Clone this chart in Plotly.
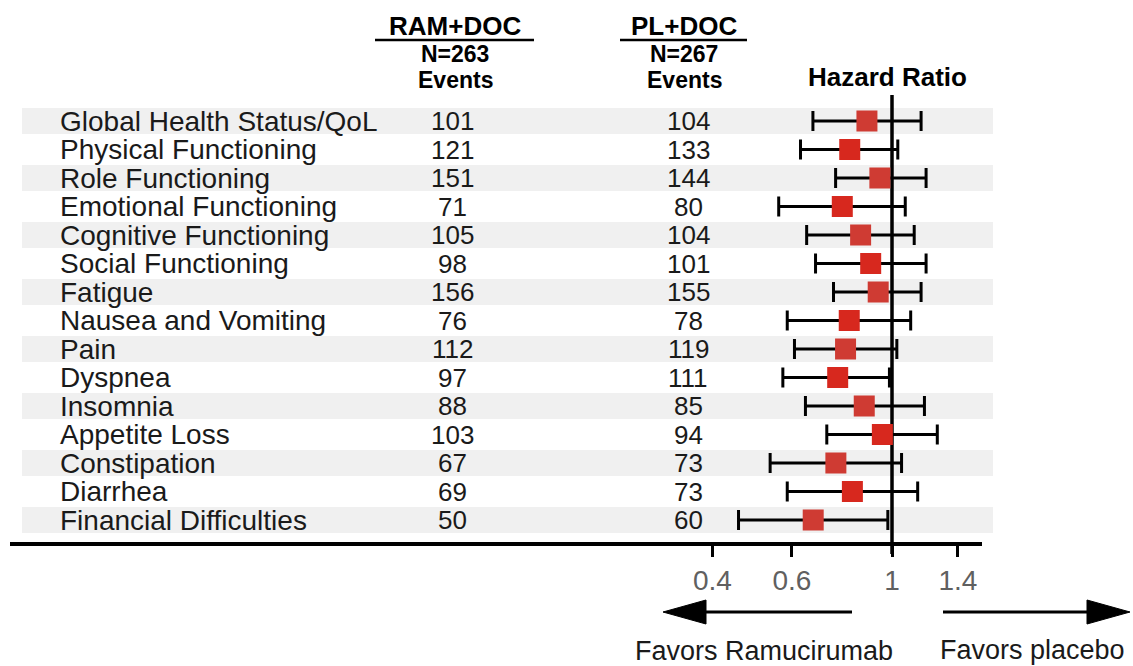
import math
import plotly.graph_objects as go

# ---------------- data ----------------
labels = [
    "Global Health Status/QoL", "Physical Functioning", "Role Functioning",
    "Emotional Functioning", "Cognitive Functioning", "Social Functioning",
    "Fatigue", "Nausea and Vomiting", "Pain", "Dyspnea", "Insomnia",
    "Appetite Loss", "Constipation", "Diarrhea", "Financial Difficulties",
]
ram_events = [101, 121, 151, 71, 105, 98, 156, 76, 112, 97, 88, 103, 67, 69, 50]
pl_events = [104, 133, 144, 80, 104, 101, 155, 78, 119, 111, 85, 94, 73, 73, 60]
hr = [0.880, 0.806, 0.940, 0.776, 0.852, 0.897, 0.932, 0.804, 0.789, 0.758,
      0.868, 0.952, 0.751, 0.817, 0.669]
ci_lo = [0.668, 0.627, 0.750, 0.561, 0.647, 0.677, 0.742, 0.586, 0.608, 0.573,
         0.643, 0.717, 0.537, 0.586, 0.457]
ci_hi = [1.160, 1.030, 1.190, 1.070, 1.120, 1.190, 1.160, 1.100, 1.025, 0.987,
         1.180, 1.260, 1.050, 1.140, 0.979]
ref_hr = 1
tick_vals = [0.4, 0.6, 1, 1.4]
tick_text = ["0.4", "0.6", "1", "1.4"]
ram_header = ["RAM+DOC", "N=263", "Events"]
pl_header = ["PL+DOC", "N=267", "Events"]
hr_header = "Hazard Ratio"
favors_left = "Favors Ramucirumab"
favors_right = "Favors placebo"

# ---------------- layout geometry ----------------
W, H = 1133, 666
FONT = "Liberation Sans, Arial, sans-serif"
ROW0_PX, ROW_STEP = 121.0, 28.5
PX_PER_LN, ONE_PX = 196.0, 892.0
AX_L, AX_R, AX_Y = 10, 982, 544


def px(xp):
    return xp / W


def py(yp):
    return 1 - yp / H


def x_log10_at(xp):
    return ((xp - ONE_PX) / PX_PER_LN) / math.log(10)


def row_at(yp):
    return (yp - ROW0_PX) / ROW_STEP


n = len(labels)
rows = list(range(n))

fig = go.Figure()

# reference line at HR = 1
fig.add_trace(go.Scatter(
    x=[ref_hr, ref_hr], y=[row_at(95), row_at(554)], mode="lines",
    line=dict(color="black", width=3.5), showlegend=False, hoverinfo="skip",
))

box_colors = ["#cf3b33" if i % 2 == 0 else "#d7281e" for i in rows]
fig.add_trace(go.Scatter(
    x=hr, y=rows, mode="markers",
    marker=dict(symbol="square", size=21, color=box_colors, line=dict(width=0)),
    error_x=dict(type="data", symmetric=False,
                 array=[h - x for h, x in zip(ci_hi, hr)],
                 arrayminus=[x - l for x, l in zip(hr, ci_lo)],
                 color="black", thickness=3, width=10),
    showlegend=False, hoverinfo="skip",
))

shapes = []
# alternating gray bands
for i in rows:
    if i % 2 == 0:
        shapes.append(dict(type="rect", xref="paper", yref="y",
                           x0=px(22), x1=px(993), y0=i - 0.46, y1=i + 0.46,
                           fillcolor="#f0f0f0", line=dict(width=0), layer="below"))
# header underlines
shapes.append(dict(type="line", xref="paper", yref="paper", x0=px(375), x1=px(534),
                   y0=py(40), y1=py(40), line=dict(color="black", width=2.5)))
shapes.append(dict(type="line", xref="paper", yref="paper", x0=px(620), x1=px(747),
                   y0=py(40), y1=py(40), line=dict(color="black", width=2.5)))
# arrows
AR_Y = 612
shapes.append(dict(type="line", xref="paper", yref="paper", x0=px(700), x1=px(852),
                   y0=py(AR_Y), y1=py(AR_Y), line=dict(color="black", width=3)))
shapes.append(dict(type="path", xref="paper", yref="paper",
                   path=f"M {px(663)},{py(AR_Y)} L {px(706)},{py(AR_Y-12)} L {px(706)},{py(AR_Y+12)} Z",
                   fillcolor="black", line=dict(color="black", width=1)))
shapes.append(dict(type="line", xref="paper", yref="paper", x0=px(943), x1=px(1092),
                   y0=py(AR_Y), y1=py(AR_Y), line=dict(color="black", width=3)))
shapes.append(dict(type="path", xref="paper", yref="paper",
                   path=f"M {px(1130)},{py(AR_Y)} L {px(1087)},{py(AR_Y-12)} L {px(1087)},{py(AR_Y+12)} Z",
                   fillcolor="black", line=dict(color="black", width=1)))

ann = []
for i, (lab, r, p) in enumerate(zip(labels, ram_events, pl_events)):
    ann.append(dict(xref="paper", yref="y", x=px(58), y=i, text=lab, xanchor="left",
                    yanchor="middle", showarrow=False, font=dict(size=28, color="#1a1a1a")))
    ann.append(dict(xref="paper", yref="y", x=px(452), y=i, text=str(r), xanchor="center",
                    yanchor="middle", showarrow=False, font=dict(size=26, color="#1a1a1a")))
    ann.append(dict(xref="paper", yref="y", x=px(688), y=i, text=str(p), xanchor="center",
                    yanchor="middle", showarrow=False, font=dict(size=26, color="#1a1a1a")))

header_rows = [(26, 26), (54, 23), (80, 23)]  # (y px, font size)
for header, cx in [(ram_header, 455), (pl_header, 684)]:
    for txt, (ypx, fs) in zip(header, header_rows):
        ann.append(dict(xref="paper", yref="paper", x=px(cx), y=py(ypx), text=f"<b>{txt}</b>",
                        xanchor="center", yanchor="middle", showarrow=False,
                        font=dict(size=fs, color="black")))
ann.append(dict(xref="paper", yref="paper", x=px(887), y=py(77), text=f"<b>{hr_header}</b>",
                xanchor="center", yanchor="middle", showarrow=False,
                font=dict(size=26, color="black")))
ann.append(dict(xref="paper", yref="paper", x=px(764), y=py(651), text=favors_left,
                xanchor="center", yanchor="middle", showarrow=False,
                font=dict(size=27, color="#1a1a1a")))
ann.append(dict(xref="paper", yref="paper", x=px(1032), y=py(650), text=favors_right,
                xanchor="center", yanchor="middle", showarrow=False,
                font=dict(size=27, color="#1a1a1a")))

fig.update_layout(
    width=W, height=H, margin=dict(l=0, r=0, t=0, b=0),
    paper_bgcolor="white", plot_bgcolor="white",
    font=dict(family=FONT),
    shapes=shapes, annotations=ann,
    xaxis=dict(type="log", domain=[px(AX_L), px(AX_R)],
               range=[x_log10_at(AX_L), x_log10_at(AX_R)], autorange=False,
               anchor="free", position=py(AX_Y),
               showline=True, linecolor="black", linewidth=3.5,
               ticks="outside", ticklen=11, tickwidth=3, tickcolor="black",
               tickvals=tick_vals, ticktext=tick_text,
               tickfont=dict(size=28, color="#606060", family=FONT),
               showgrid=False, zeroline=False, fixedrange=True),
    yaxis=dict(range=[row_at(H), row_at(0)], autorange=False, visible=False,
               domain=[0, 1], showgrid=False, zeroline=False, fixedrange=True),
)

fig.write_html("out.html")
